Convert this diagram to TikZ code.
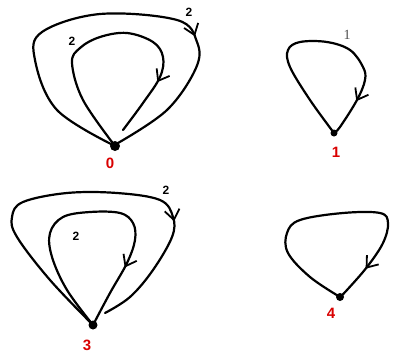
\documentclass[tikz,border=0pt]{standalone}
\usepackage{fontspec}
\setmainfont{Liberation Sans}
\newfontfamily\graydigit{Liberation Serif}
\usetikzlibrary{arrows.meta,decorations.markings}
\tikzset{
  dotn/.style={circle,fill=black,inner sep=0pt,minimum size=#1},
  dotn/.default=9pt,
  lbl/.style={text=red!85!black,font=\bfseries\fontsize{15}{15}\selectfont,inner sep=0pt},
  wl/.style={text=black,font=\bfseries\fontsize{12}{12}\selectfont,inner sep=0pt},
  gl/.style={text=black!70,font=\graydigit\fontsize{14}{14}\selectfont,inner sep=0pt},
  loopline/.style={line width=2.2pt,line cap=round,line join=round},
  arrowat/.style={postaction={decorate,decoration={markings,
     mark=at position #1 with {\arrow[line width=1.8pt]{Straight Barb[length=10pt,width=15pt]}}}}}
}
\begin{document}
\begin{tikzpicture}[x=1pt,y=-1pt]
\useasboundingbox (0,0) rectangle (394,354);
% state 0
\node[dotn=10pt] (n0) at (115,146) {};
\node[lbl] (l0) at (110,163) {0};
\draw[loopline,arrowat=0.69] plot[smooth,tension=0.6] coordinates {(n0.center) (57,110) (35,60) (42,32) (100,14) (177,20) (197,42) (196,68) (167,110) (118,143)};
\draw[loopline,arrowat=0.80] plot[smooth,tension=0.6] coordinates {(n0.center) (83,100) (72,63) (80,48) (100,37) (127,33) (153,42) (163,57) (160,77) (143,103) (123,130)};
\node[wl] (w0a) at (189,12) {2};
\node[wl] (w0b) at (72,41) {2};
% state 1
\node[dotn=7pt] (n1) at (334,133) {};
\node[lbl] (l1) at (336,152) {1};
\draw[loopline,arrowat=0.85] plot[smooth,tension=0.6] coordinates {(n1.center) (310,100) (290,67) (288,50) (300,42) (327,42) (350,50) (363,67) (365,80) (357,100) (340,127) (n1.center)};
\node[gl] (w1) at (347,35) {1};
% state 3
\node[dotn=9pt] (n3) at (93,325) {};
\node[lbl] (l3) at (87,345) {3};
\draw[loopline,arrowat=0.73] plot[smooth,tension=0.6] coordinates {(n3.center) (50,280) (17,237) (12,217) (23,202) (67,193) (117,193) (160,200) (173,217) (172,237) (153,270) (130,297) (105,313)};
\draw[loopline,arrowat=0.79] plot[smooth,tension=0.6] coordinates {(n3.center) (67,290) (52,257) (50,233) (63,217) (90,212) (120,213) (133,223) (135,240) (127,263) (110,293) (n3.center)};
\node[wl] (w3a) at (166,190) {2};
\node[wl] (w3b) at (76,236) {2};
% state 4
\node[dotn=8pt] (n4) at (340,297) {};
\node[lbl] (l4) at (331,313) {4};
\draw[loopline,arrowat=0.87] plot[smooth,tension=0.6] coordinates {(n4.center) (310,277) (288,253) (287,233) (300,220) (343,213) (380,213) (388,223) (383,243) (367,267) (347,290) (n4.center)};
\end{tikzpicture}
\end{document}
